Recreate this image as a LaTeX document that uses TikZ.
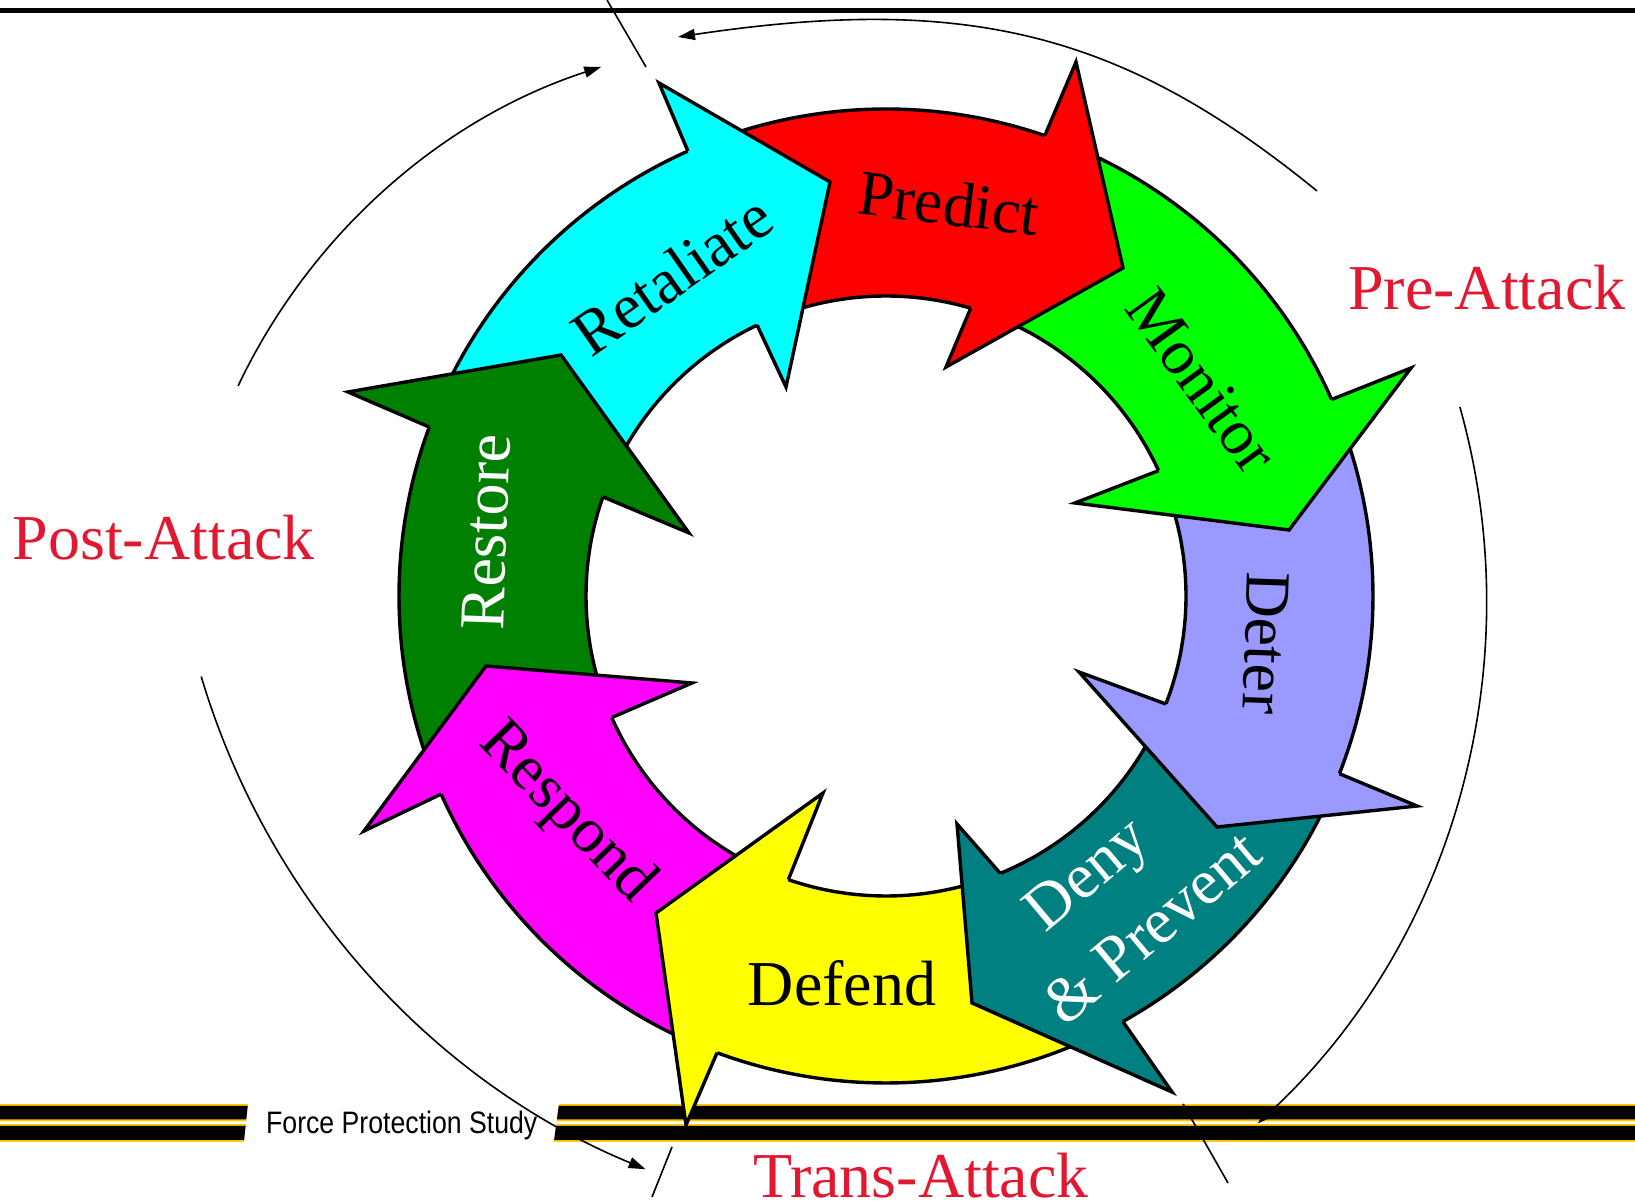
\documentclass[tikz,border=0pt]{standalone}
\usepackage{fontspec}
\setmainfont{Liberation Serif}
\setsansfont{Liberation Sans}
\usetikzlibrary{calc,arrows.meta}
\definecolor{cRet}{RGB}{0,255,255}
\definecolor{cPre}{RGB}{255,0,0}
\definecolor{cMon}{RGB}{0,255,0}
\definecolor{cDet}{RGB}{153,153,255}
\definecolor{cDen}{RGB}{0,128,128}
\definecolor{cDef}{RGB}{255,255,0}
\definecolor{cRsp}{RGB}{255,0,255}
\definecolor{cRst}{RGB}{0,128,0}
\definecolor{phasered}{RGB}{226,24,48}
\definecolor{stripegold}{RGB}{255,200,0}
\newcommand\ringbody[5]{%
  \fill[#1] ($(C)+(#2:487pt)$) arc[start angle=#2,end angle={#3-1.5},radius=487pt]
    -- ($(C)+({#5-1.5}:300pt)$) arc[start angle={#5-1.5},end angle=#4,radius=300pt] -- cycle;}
\newcommand\ringedge[4]{%
  \draw[outl] ($(C)+(#1:487pt)$) arc[start angle=#1,end angle=#2,radius=487pt];
  \draw[outl] ($(C)+(#3:300pt)$) arc[start angle=#3,end angle=#4,radius=300pt];}
\newcommand\ringhead[6]{%
  \filldraw[outl,fill=#1] ($(C)+(#2:487pt)$) -- #3 -- #4 -- #5 -- ($(C)+(#6:300pt)$);}
\begin{document}
\begin{tikzpicture}[x=1pt,y=1pt,
  outl/.style={draw=black,line width=3.4pt,line join=miter},
  thinln/.style={draw=black,line width=1.6pt},
  tipped/.style={-{Triangle[length=17pt,width=11pt]}},
  lab/.style={inner sep=0pt,font=\fontsize{64}{70}\selectfont},
  phase/.style={inner sep=0pt,text=phasered,font=\fontsize{64}{70}\selectfont}]
\useasboundingbox (0,0) rectangle (1635,1201);
\fill[white] (0,0) rectangle (1635,1201);
\coordinate (C) at (886,605);
% top rule
\fill[black] (0,1187.7) rectangle (1635,1192.7);
% bottom stripes
\fill[stripegold] (0,79.7) -- (246.1,79.7) -- (248.0,96.8) -- (0,96.8) -- cycle;
\fill[black] (0,81.5) -- (246.3,81.5) -- (247.7,95) -- (0,95) -- cycle;
\fill[stripegold] (0,59.2) -- (243.9,59.2) -- (245.8,76.8) -- (0,76.8) -- cycle;
\fill[black] (0,61) -- (244.1,61) -- (245.6,75) -- (0,75) -- cycle;
\fill[stripegold] (556.7,79.7) -- (1635,79.7) -- (1635,96.8) -- (559.0,96.8) -- cycle;
\fill[black] (556.9,81.5) -- (1635,81.5) -- (1635,95) -- (558.7,95) -- cycle;
\fill[stripegold] (553.9,59.2) -- (1635,59.2) -- (1635,76.8) -- (556.3,76.8) -- cycle;
\fill[black] (554.1,61) -- (1635,61) -- (1635,75) -- (556.0,75) -- cycle;
\node[inner sep=0pt,anchor=base west,font=\sffamily\fontsize{31}{34}\selectfont,xscale=0.86] (fps) at (266,67.5) {Force Protection Study};
% ring bodies
\ringbody{cRet}{156.7}{114.0}{157.7}{115.45}
\ringbody{cPre}{111.0}{70.97}{112.45}{73.6}
\ringbody{cMon}{67.97}{23.8}{70.6}{24.7}
\ringbody{cDet}{20.8}{-21.4}{21.7}{-21.1}
\ringbody{cDen}{-24.4}{-60.9}{-24.1}{-67.6}
\ringbody{cDef}{-63.9}{-110.3}{-70.6}{-109.0}
\ringbody{cRsp}{-113.3}{-156.0}{-112.0}{-156.1}
\ringbody{cRst}{-159.0}{-200.3}{-159.1}{-199.3}
\ringedge{156.7}{114.0}{157.7}{115.45}
\ringedge{111.0}{70.97}{112.45}{73.6}
\ringedge{67.97}{23.8}{70.6}{24.7}
\ringedge{20.8}{-21.4}{21.7}{-21.1}
\ringedge{-24.4}{-60.9}{-24.1}{-67.6}
\ringedge{-63.9}{-110.3}{-70.6}{-109.0}
\ringedge{-113.3}{-156.0}{-112.0}{-156.1}
\ringedge{-159.0}{-200.3}{-159.1}{-199.3}
% heads
\ringhead{cRet}{114.0}{(659,1118)}{(830,1019)}{(786,814)}{115.45}
\ringhead{cPre}{70.97}{(1076,1139)}{(1123,933)}{(946,834)}{73.6}
\ringhead{cMon}{23.8}{(1411,833)}{(1289,671)}{(1075,698)}{24.7}
\ringhead{cDet}{-21.4}{(1417,395)}{(1217,374)}{(1079,529)}{-21.1}
\ringhead{cDen}{-60.9}{(1172,109)}{(972,198)}{(957,377)}{-67.6}
\ringhead{cDef}{-110.3}{(686,76)}{(656,288)}{(823,408)}{-109.0}
\ringhead{cRsp}{-156.0}{(364,370)}{(486,535)}{(692,518)}{-156.1}
\ringhead{cRst}{159.7}{(348,809)}{(561,846)}{(689,668)}{160.7}
% labels
\node[lab,rotate=35] (tRet) at (672,926) {Retaliate};
\node[lab,rotate=-7] (tPre) at (949,998) {Predict};
\node[lab,rotate=-54] (tMon) at (1202,820) {Monitor};
\node[lab,rotate=-92] (tDet) at (1266,558) {Deter};
\node[lab,rotate=40,text=white] (tDen1) at (1090,323) {Deny};
\node[lab,rotate=40,text=white] (tDen2) at (1152,274) {\& Prevent};
\node[lab] (tDef) at (842,218) {Defend};
\node[lab,rotate=-46] (tRsp) at (566,388) {Respond};
\node[lab,rotate=88,text=white] (tRst) at (486,669) {Restore};
% phase labels
\node[phase,anchor=base west] (pre) at (1348,891) {Pre-Attack};
\node[phase,anchor=base west] (post) at (12.5,641) {Post-Attack};
\node[phase,anchor=base west] (trans) at (753,3) {Trans-Attack};
% phase arcs
\coordinate (a1s) at (1317,1010);
\coordinate (a1p) at (1123,1168);
\coordinate (a1q) at (968,1207.5);
\coordinate (a1e) at (678,1164);
\coordinate (a2c) at (773,601);
\coordinate (a3c) at (941,745);
\coordinate (a4c) at (790,553);
\draw[thinln,tipped] (a1s) .. controls (a1p) and (a1q) .. (a1e);
\draw[thinln,tipped] ($(a2c)+(15.7:713.5pt)$) arc[start angle=15.7,end angle=-47.2,radius=713.5pt];
\draw[thinln,tipped] ($(a3c)+(-163.4:772pt)$) arc[start angle=-163.4,end angle=-112.5,radius=772pt];
\draw[thinln,tipped] ($(a4c)+(154.6:611pt)$) arc[start angle=154.6,end angle=108,radius=611pt];
% separators
\coordinate (s1a) at (607,1201); \coordinate (s1b) at (646,1134);
\coordinate (s2a) at (672,54); \coordinate (s2b) at (652,4);
\coordinate (s3a) at (1183,97); \coordinate (s3b) at (1228,18);
\draw[thinln] (s1a) -- (s1b);
\draw[thinln] (s2a) -- (s2b);
\draw[thinln] (s3a) -- (s3b);
\end{tikzpicture}
\end{document}
